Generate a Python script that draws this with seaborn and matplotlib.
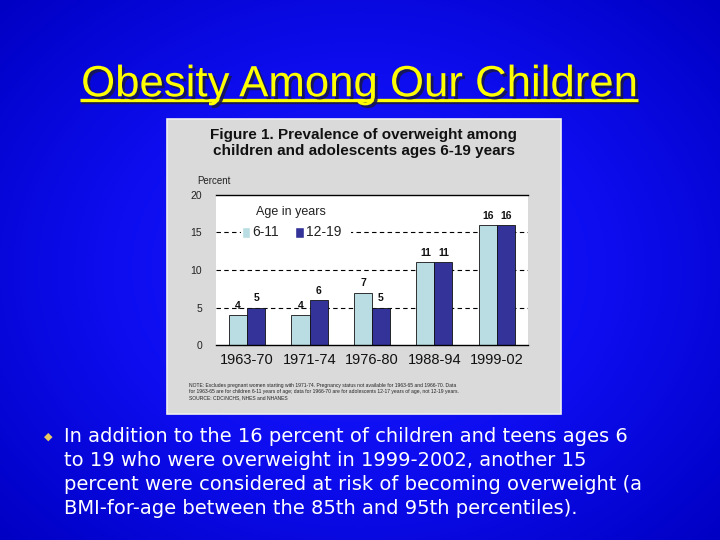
import numpy as np
import pandas as pd
import matplotlib
matplotlib.use("Agg")
import matplotlib.pyplot as plt
import matplotlib.patheffects as pe
from matplotlib.colors import LinearSegmentedColormap
from matplotlib.patches import Rectangle
import seaborn as sns

# data
periods = ["1963-70", "1971-74", "1976-80", "1988-94", "1999-02"]
ages_6_11 = [4, 4, 7, 11, 16]
ages_12_19 = [5, 6, 5, 11, 16]
age_groups = ["6-11", "12-19"]
y_ticks = [0, 5, 10, 15, 20]

slide_title = "Obesity Among Our Children"
chart_title = "Figure 1. Prevalence of overweight among\nchildren and adolescents ages 6-19 years"
note_text = ("NOTE: Excludes pregnant women starting with 1971-74. Pregnancy status not available for 1963-65 and 1966-70. Data\n"
             "for 1963-65 are for children 6-11 years of age; data for 1966-70 are for adolescents 12-17 years of age, not 12-19 years.\n"
             "SOURCE: CDC/NCHS, NHES and NHANES")
bullet_lines = [
    "In addition to the 16 percent of children and teens ages 6",
    "to 19 who were overweight in 1999-2002, another 15",
    "percent were considered at risk of becoming overweight (a",
    "BMI-for-age between the 85th and 95th percentiles).",
]

df = pd.DataFrame({
    "period": periods * 2,
    "age": [age_groups[0]] * len(periods) + [age_groups[1]] * len(periods),
    "pct": ages_6_11 + ages_12_19,
})
colors = ["#b9dde2", "#333399"]

sns.set_theme(style="white")
plt.rcParams["font.family"] = ["Liberation Sans", "DejaVu Sans"]

fig = plt.figure(figsize=(7.2, 5.4), dpi=100)

# blue slide background, drawn on a full-figure axes
bg = fig.add_axes([0, 0, 1, 1], zorder=-1)
yy, xx = np.mgrid[0:1:270j, 0:1:360j]
r = np.sqrt(((xx - 0.5) / 0.75) ** 2 + ((yy - 0.5) / 0.8) ** 2)
cmap = LinearSegmentedColormap.from_list("slide", ["#1a1aff", "#0d0df0", "#0000c4"])
bg.imshow(r, cmap=cmap, aspect="auto", extent=[0, 1, 0, 1], origin="lower")
bg.set_xlim(0, 1)
bg.set_ylim(0, 1)
bg.set_axis_off()

# title with shadow and underline
bg.text(0.5, 0.843, slide_title, color="#ffff00", fontsize=31.5, ha="center", va="center",
        path_effects=[pe.SimplePatchShadow(offset=(2, -2), shadow_rgbFace="#181850", alpha=0.9),
                      pe.Normal()])
bg.plot([0.113, 0.888], [0.812, 0.812], color="#181850", lw=2.4, solid_capstyle="butt")
bg.plot([0.111, 0.886], [0.815, 0.815], color="#ffff00", lw=2.4, solid_capstyle="butt")

# grey panel for the embedded figure
bg.add_patch(Rectangle((0.2319, 0.2333), 0.5472, 0.5463, facecolor="#dadada",
                       edgecolor="#f0f0f0", lw=1.2))
bg.text(0.505, 0.735, chart_title, fontsize=11, fontweight="bold", ha="center",
        va="center", color="#111111", linespacing=1.15)
bg.text(0.274, 0.665, "Percent", fontsize=7, ha="left", va="center", color="#222222")
bg.text(0.262, 0.275, note_text, fontsize=3.6, ha="left", va="center", color="#222222",
        linespacing=1.3)

ax = fig.add_axes([0.3, 0.3611, 0.4333, 0.2778])
ax.set_facecolor("white")
sns.barplot(data=df, x="period", y="pct", hue="age", order=periods, hue_order=age_groups,
            palette=colors, width=0.58, gap=0, edgecolor="#111111",
            linewidth=0.6, ax=ax, legend=False, saturation=1)
for cont in ax.containers:
    ax.bar_label(cont, fmt="%d", padding=3, fontsize=7.5, fontweight="bold", color="#111111")
for v in y_ticks[1:-1]:
    ax.axhline(v, color="black", lw=0.8, ls=(0, (4, 3)), zorder=0)
ax.set_ylim(0, 20)
ax.set_xlim(-0.5, 4.5)
ax.set_yticks(y_ticks)
ax.tick_params(axis="y", labelsize=7.5, colors="#222222", length=0, pad=10)
ax.tick_params(axis="x", labelsize=10.5, colors="#111111", length=0, pad=6)
ax.set_xlabel("")
ax.set_ylabel("")
for s in ["left", "right"]:
    ax.spines[s].set_visible(False)
for s in ["top", "bottom"]:
    ax.spines[s].set_color("black")
    ax.spines[s].set_linewidth(1)

# legend inside plot, on a white box that hides the dashed line
ax.add_patch(Rectangle((-0.1, 14.0), 1.76, 5.0, facecolor="white", edgecolor="none", zorder=1))
ax.text(0.14, 17.7, "Age in years", fontsize=9, color="#222222", va="center", zorder=2)
ax.add_patch(Rectangle((-0.09, 14.25), 0.14, 1.5, facecolor=colors[0], zorder=2))
ax.text(0.08, 15.0, age_groups[0], fontsize=10, color="#222222", va="center", zorder=2)
ax.add_patch(Rectangle((0.76, 14.25), 0.15, 1.5, facecolor=colors[1], zorder=2))
ax.text(0.94, 15.0, age_groups[1], fontsize=10, color="#222222", va="center", zorder=2)

# bullet text
bg.text(0.067, 0.191, "\u25c6", color="#e8c860", fontsize=8, ha="center", va="center")
for i, line in enumerate(bullet_lines):
    bg.text(0.089, 0.191 - i * 0.0444, line, color="white", fontsize=14,
            family=["DejaVu Sans"], ha="left", va="center")

fig.savefig("out.png", dpi=100)
